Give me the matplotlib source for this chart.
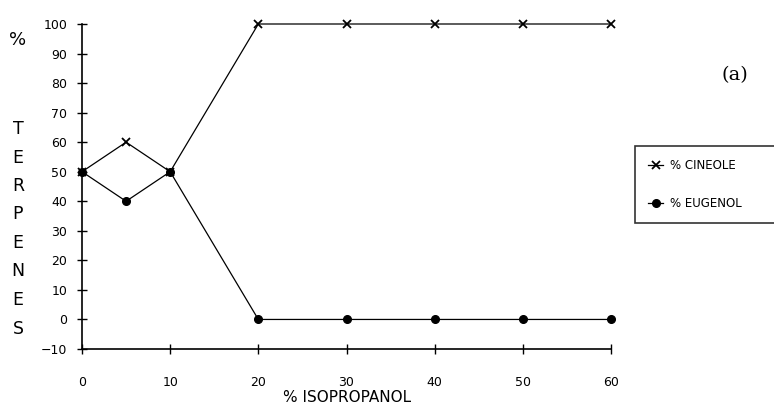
import matplotlib
matplotlib.use("Agg")
import matplotlib.pyplot as plt

# data
isopropanol = [0, 5, 10, 20, 30, 40, 50, 60]
cineole = [50, 60, 50, 100, 100, 100, 100, 100]
eugenol = [50, 40, 50, 0, 0, 0, 0, 0]
xticks = [0, 10, 20, 30, 40, 50, 60]
yticks = [-10, 0, 10, 20, 30, 40, 50, 60, 70, 80, 90, 100]

W, H = 774, 407
fig = plt.figure(figsize=(W / 100, H / 100), dpi=100)
ax = fig.add_axes([82 / W, 58 / H, (611 - 82) / W, (349 - 24) / H])

ax.plot(isopropanol, cineole, color="black", lw=0.9, marker="x", ms=6,
        mew=1.3, clip_on=False, label="% CINEOLE")
ax.plot(isopropanol, eugenol, color="black", lw=0.9, marker="o", ms=5.5,
        clip_on=False, label="% EUGENOL")

ax.set_xlim(0, 60)
ax.set_ylim(-10, 100)
ax.set_xticks(xticks)
ax.set_yticks(yticks)
ax.spines["top"].set_visible(False)
ax.spines["right"].set_visible(False)
ax.spines["left"].set_linewidth(1.2)
ax.spines["bottom"].set_linewidth(1.2)
ax.tick_params(direction="inout", length=7, width=1, labelsize=9, pad=7)
ax.tick_params(axis="x", pad=16)

# x title sits low, close to the bottom edge
fig.text(347 / W, 1 - 397 / H, "% ISOPROPANOL", fontsize=11,
         ha="center", va="center")

# vertical y-axis title, one letter per line
fig.text(18 / W, 1 - 40 / H, "%", fontsize=13, ha="center", va="center")
for i, ch in enumerate("TERPENES"):
    fig.text(18 / W, 1 - (129 + i * 28.5) / H, ch, fontsize=12.5,
             ha="center", va="center")

fig.text(735 / W, 1 - 75 / H, "(a)", fontsize=14, family="DejaVu Serif",
         ha="center", va="center")

leg = ax.legend(loc="upper left", bbox_to_anchor=(635 / W, 1 - 146 / H - 0.1, 0.25, 0.1),
                bbox_transform=fig.transFigure, mode="expand", frameon=True,
                fancybox=False, edgecolor="black", fontsize=8.5,
                handlelength=1.3, handletextpad=0.6, labelspacing=2.1,
                borderpad=1.1, borderaxespad=0)
leg.get_frame().set_linewidth(1.2)
for h in leg.legend_handles:
    h.set_markersize(5.5)

fig.savefig("out.png", dpi=100)
